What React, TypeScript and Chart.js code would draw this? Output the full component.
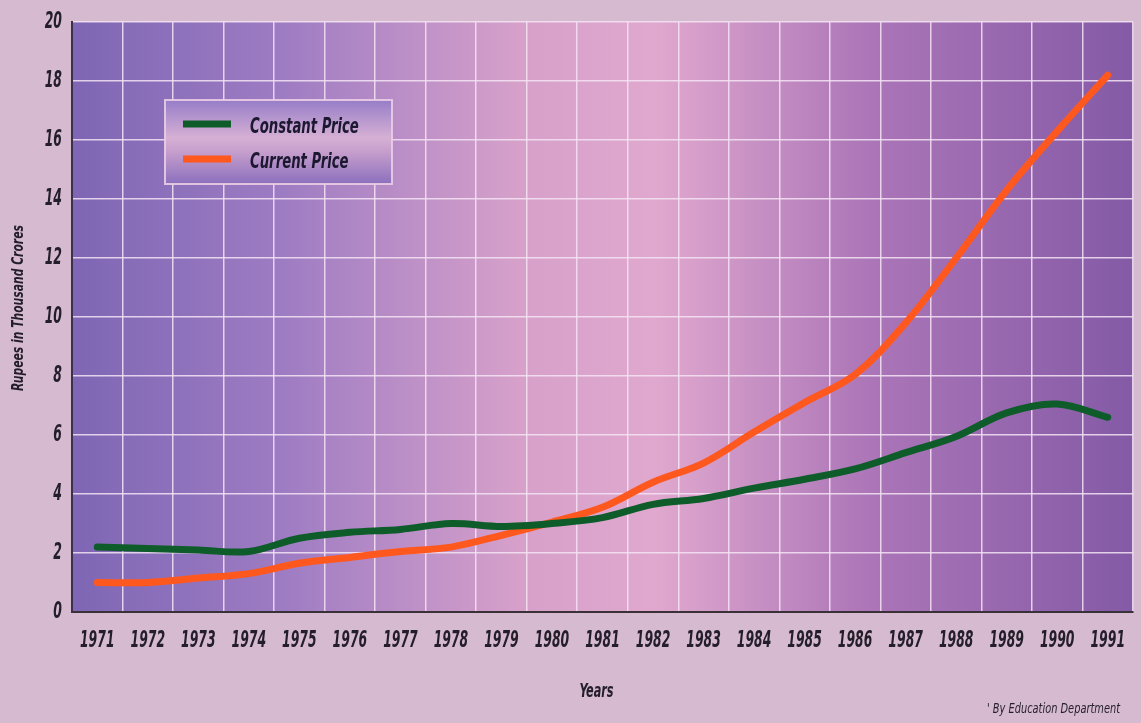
import React, { useEffect, useRef } from "react";
import { Chart, registerables } from "chart.js";

Chart.register(...registerables);

const years = [
  "1971", "1972", "1973", "1974", "1975", "1976", "1977", "1978", "1979", "1980",
  "1981", "1982", "1983", "1984", "1985", "1986", "1987", "1988", "1989", "1990", "1991",
];
const constantPrice = [
  2.2, 2.15, 2.1, 2.05, 2.5, 2.7, 2.8, 3.0, 2.9, 3.0,
  3.2, 3.65, 3.85, 4.2, 4.5, 4.85, 5.4, 5.95, 6.75, 7.05, 6.6,
];
const currentPrice = [
  1.0, 1.0, 1.15, 1.3, 1.65, 1.85, 2.05, 2.2, 2.6, 3.05,
  3.55, 4.4, 5.05, 6.1, 7.1, 8.05, 9.8, 12.0, 14.3, 16.3, 18.2,
];
const yTicks = [0, 2, 4, 6, 8, 10, 12, 14, 16, 18, 20];
const seriesNames = ["Constant Price", "Current Price"];
const yTitle = "Rupees in Thousand Crores";
const xTitle = "Years";
const footnote = "' By Education Department";

const FONT = "'DejaVu Sans Condensed', 'DejaVu Sans', sans-serif";
const PAGE_BG = "rgb(214,186,207)";
const TEXT = "#241e2a";

function condensedText(
  ctx: CanvasRenderingContext2D,
  text: string,
  x: number,
  y: number,
  font: string,
  sx: number,
  align: CanvasTextAlign,
  color: string,
  rotate = 0
) {
  ctx.save();
  ctx.translate(x, y);
  if (rotate) ctx.rotate(rotate);
  ctx.scale(sx, 1);
  ctx.font = font;
  ctx.fillStyle = color;
  ctx.textAlign = align;
  ctx.textBaseline = "middle";
  ctx.fillText(text, 0, 0);
  ctx.restore();
}

export default function App() {
  const ref = useRef<HTMLCanvasElement>(null);

  useEffect(() => {
    const canvas = ref.current;
    if (!canvas) return;

    const bgPlugin = {
      id: "plotBg",
      beforeDraw(chart: any) {
        const { ctx, chartArea: a, width, height } = chart;
        ctx.save();
        ctx.fillStyle = PAGE_BG;
        ctx.fillRect(0, 0, width, height);
        const g = ctx.createLinearGradient(a.left, 0, a.right, 0);
        g.addColorStop(0, "rgb(126,102,180)");
        g.addColorStop(0.2, "rgb(158,124,195)");
        g.addColorStop(0.42, "rgb(214,160,202)");
        g.addColorStop(0.55, "rgb(224,168,206)");
        g.addColorStop(0.75, "rgb(172,118,184)");
        g.addColorStop(1, "rgb(132,90,166)");
        ctx.fillStyle = g;
        ctx.fillRect(a.left, a.top, a.right - a.left, a.bottom - a.top);
        ctx.restore();
      },
    };

    const textPlugin = {
      id: "condensedLabels",
      afterDraw(chart: any) {
        const { ctx, chartArea: a } = chart;
        const xs = chart.scales.x;
        const ys = chart.scales.y;
        const tickFont = `italic bold 23px ${FONT}`;
        (chart.data.labels as string[]).forEach((lab, i) => {
          condensedText(ctx, lab, xs.getPixelForValue(i), a.bottom + 29, tickFont, 0.6, "center", TEXT);
        });
        yTicks.forEach((v) => {
          condensedText(ctx, String(v), a.left - 10, ys.getPixelForValue(v), tickFont, 0.6, "right", TEXT);
        });
        condensedText(ctx, xTitle, (a.left + a.right) / 2 - 6, a.bottom + 80, `italic bold 19px ${FONT}`, 0.66, "center", TEXT);
        condensedText(ctx, yTitle, 19, 308, `italic bold 16px ${FONT}`, 0.75, "center", TEXT, -Math.PI / 2);
        condensedText(ctx, footnote, 1120, 709, `italic 14px ${FONT}`, 0.78, "right", TEXT);

        // legend box
        const x = a.left + 93;
        const y = a.top + 78;
        const w = 227;
        const h = 84;
        ctx.save();
        const g = ctx.createLinearGradient(0, y, 0, y + h);
        g.addColorStop(0, "rgb(150,125,200)");
        g.addColorStop(0.45, "rgb(214,176,212)");
        g.addColorStop(0.6, "rgb(200,160,205)");
        g.addColorStop(1, "rgb(140,112,190)");
        ctx.fillStyle = g;
        ctx.fillRect(x, y, w, h);
        ctx.strokeStyle = "rgba(235,205,230,0.9)";
        ctx.lineWidth = 2;
        ctx.strokeRect(x, y, w, h);
        ctx.restore();
        chart.data.datasets.forEach((ds: any, i: number) => {
          const ly = y + 24 + i * 35;
          ctx.save();
          ctx.strokeStyle = ds.borderColor;
          ctx.lineWidth = 7;
          ctx.lineCap = "butt";
          ctx.beginPath();
          ctx.moveTo(x + 18, ly);
          ctx.lineTo(x + 66, ly);
          ctx.stroke();
          ctx.restore();
          condensedText(ctx, ds.label, x + 85, ly + 4, `italic bold 21px ${FONT}`, 0.7, "left", "#1c1830");
        });
      },
    };

    const chart = new Chart(canvas, {
      type: "line",
      data: {
        labels: years,
        datasets: [
          {
            label: seriesNames[0],
            data: constantPrice,
            borderColor: "rgb(14,92,42)",
            borderWidth: 7,
            pointRadius: 0,
            tension: 0.35,
            borderCapStyle: "round",
            borderJoinStyle: "round",
          },
          {
            label: seriesNames[1],
            data: currentPrice,
            borderColor: "rgb(255,88,30)",
            borderWidth: 7,
            pointRadius: 0,
            tension: 0.35,
            borderCapStyle: "round",
            borderJoinStyle: "round",
          },
        ],
      },
      options: {
        responsive: false,
        animation: false,
        devicePixelRatio: 1,
        layout: { padding: { top: 22, right: 8, left: 0, bottom: 0 } },
        plugins: {
          legend: { display: false },
          tooltip: { enabled: false },
          title: { display: false },
        },
        scales: {
          x: {
            type: "category",
            offset: true,
            grid: {
              offset: true,
              color: "rgba(245,228,245,0.85)",
              lineWidth: 1.5,
              drawTicks: false,
            },
            border: { display: true, color: "#3a3038", width: 2 },
            ticks: { display: false, autoSkip: false },
            title: { display: false },
            afterFit(scale: any) {
              scale.height = 111;
            },
          },
          y: {
            min: 0,
            max: 20,
            ticks: { stepSize: 2, display: false },
            grid: {
              color: "rgba(245,228,245,0.85)",
              lineWidth: 1.5,
              drawTicks: false,
            },
            border: { display: true, color: "#3a3048", width: 2 },
            title: { display: false },
            afterFit(scale: any) {
              scale.width = 72;
            },
          },
        },
      },
      plugins: [bgPlugin, textPlugin],
    } as any);

    return () => chart.destroy();
  }, []);

  return (
    <div
      style={{
        position: "fixed",
        left: 0,
        top: 0,
        width: 1141,
        height: 723,
        background: PAGE_BG,
        overflow: "hidden",
      }}
    >
      <canvas ref={ref} width={1141} height={723} style={{ display: "block" }} />
    </div>
  );
}
